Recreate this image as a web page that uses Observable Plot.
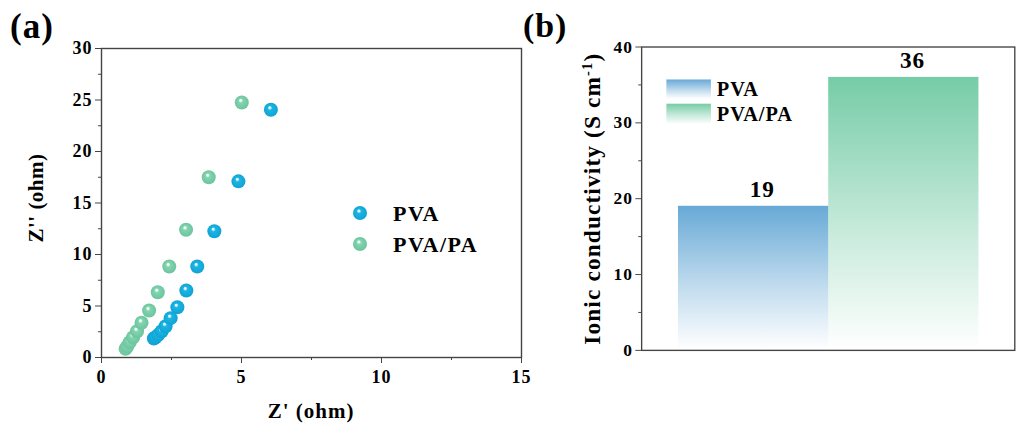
<!DOCTYPE html>
<html><head><meta charset="utf-8">
<script src="https://cdn.jsdelivr.net/npm/d3@7"></script>
<script src="https://cdn.jsdelivr.net/npm/@observablehq/plot@0.6"></script>
<style>
html,body{margin:0;padding:0;background:#fff;}
#wrap{position:relative;width:1024px;height:423px;overflow:hidden;}
#a,#b{position:absolute;top:0;}
#a{left:0;} #b{left:520px;}
#wrap svg, #wrap svg g, #wrap svg text{font-family:"Liberation Serif","Times New Roman",serif !important;font-variant:normal !important;font-variant-numeric:normal !important;}
</style></head><body>
<div id="wrap"><div id="a"></div><div id="b"></div></div>
<script>
// ---------- data ----------
const pvaZre = [1.87,1.93,2.03,2.15,2.29,2.47,2.71,3.03,3.42,4.03,4.89,6.05];
const pvaZim = [1.84,1.97,2.20,2.55,3.04,3.82,4.88,6.50,8.83,12.26,17.10,24.05];
const paZre  = [0.86,0.92,1.01,1.13,1.27,1.43,1.70,2.01,2.42,3.02,3.83,5.01];
const paZim  = [0.84,1.07,1.49,1.97,2.55,3.37,4.56,6.34,8.83,12.40,17.50,24.76];
const seriesNames = ["PVA","PVA/PA"];
const conductivity = [19,36];
const xMajorA = [0,5,10,15];
const xMinorA = [2.5,7.5,12.5];
const yMajorA = [0,5,10,15,20,25,30];
const yMinorA = [2.5,7.5,12.5,17.5,22.5,27.5];
const yMajorB = [0,10,20,30,40];
const yMinorB = [5,15,25,35];

const FONT = '"Liberation Serif","Times New Roman",serif';
const pva = pvaZre.map((x,i)=>({x, y:pvaZim[i]}));
const pvaPa = paZre.map((x,i)=>({x, y:paZim[i]}));
const bars = seriesNames.map((name,i)=>({name, value:conductivity[i]}));

function addText(sel, x, y, txt, size, opts={}) {
  const t = sel.append("text").attr("x",x).attr("y",y).text(txt)
    .attr("font-family",FONT).attr("font-weight","bold").attr("font-size",size).attr("fill","#000")
    .attr("text-anchor", opts.anchor || "start");
  if (opts.rotate) t.attr("transform",`rotate(-90,${x},${y})`);
  if (opts.ls) t.attr("letter-spacing",opts.ls);
  return t;
}
const tickFont = {fontFamily: FONT, fontSize: 18, fontWeight: "bold", fontVariant: "normal", fill: "#000"};

// ---------- panel (a) ----------
const ballDefs = () => {
  const d = d3.create("svg:defs");
  [["ballBlue","#d6f3fc","#1cb5e3","#0fa3d3"],["ballGreen","#eefaf4","#82d4b0","#6cc49d"]].forEach(([id,hi,mid,edge])=>{
    const g = d.append("radialGradient").attr("id",id).attr("cx","0.5").attr("cy","0.5").attr("r","0.5").attr("fx","0.4").attr("fy","0.32");
    g.append("stop").attr("offset","0").attr("stop-color","#ffffff");
    g.append("stop").attr("offset","0.14").attr("stop-color",hi);
    g.append("stop").attr("offset","0.32").attr("stop-color",mid);
    g.append("stop").attr("offset","1").attr("stop-color",edge);
  });
  return d.node();
};
const decoA = () => {
  const g = d3.create("svg:g");
  addText(g, 10, 38, "(a)", 35);
  addText(g, 311, 418, "Z' (ohm)", 21, {anchor:"middle", ls:"1px"});
  addText(g, 43, 198, "Z'' (ohm)", 21, {anchor:"middle", rotate:true, ls:"0.5px"});
  // legend
  g.append("circle").attr("cx",360).attr("cy",213).attr("r",7).attr("fill","url(#ballBlue)");
  g.append("circle").attr("cx",360).attr("cy",244).attr("r",7).attr("fill","url(#ballGreen)");
  addText(g, 393, 221, seriesNames[0], 22, {ls:"1.5px"});
  addText(g, 393, 252, seriesNames[1], 22, {ls:"1.5px"});
  return g.node();
};

const left = Plot.plot({
  width: 530, height: 423,
  marginLeft: 101, marginRight: 9, marginTop: 48, marginBottom: 66,
  x: {domain: [0,15]},
  y: {domain: [0,30]},
  style: {fontFamily: FONT, fontSize: "18px", fontWeight: "bold", color: "#000", background: "transparent", overflow: "visible", letterSpacing: "1px"},
  marks: [
    ballDefs,
    Plot.frame({stroke: "#444", strokeWidth: 1.4}),
    Plot.axisX(xMinorA, {tickSize: 3, text: null, label: null, stroke: "#444"}),
    Plot.axisX(xMajorA, {tickSize: 6, tickPadding: 7, label: null, stroke: "#444", ...tickFont}),
    Plot.axisY(yMinorA, {tickSize: 3, text: null, label: null, stroke: "#444"}),
    Plot.axisY(yMajorA, {tickSize: 6, tickPadding: 3, label: null, stroke: "#444", ...tickFont}),
    Plot.dot(pva, {x: "x", y: "y", r: 7, fill: "url(#ballBlue)", stroke: null}),
    Plot.dot(pvaPa, {x: "x", y: "y", r: 7, fill: "url(#ballGreen)", stroke: null}),
    decoA
  ]
});
document.getElementById("a").append(left);

// ---------- panel (b) ----------
const barDefs = () => {
  const d = d3.create("svg:defs");
  [["barBlue","#68a9d6"],["barGreen","#76cca7"]].forEach(([id,c])=>{
    const g = d.append("linearGradient").attr("id",id).attr("x1","0").attr("y1","0").attr("x2","0").attr("y2","1");
    g.append("stop").attr("offset","0").attr("stop-color",c).attr("stop-opacity",1);
    g.append("stop").attr("offset","0.55").attr("stop-color",c).attr("stop-opacity",0.42);
    g.append("stop").attr("offset","1").attr("stop-color",c).attr("stop-opacity",0);
  });
  return d.node();
};
const decoB = () => {
  const g = d3.create("svg:g");
  addText(g, 3, 38, "(b)", 35);
  const t = addText(g, 83, 205, "Ionic conductivity (S cm", 24, {anchor:"middle", rotate:true, ls:"1.2px"});
  t.append("tspan").attr("baseline-shift","super").attr("font-size",15).text("-1");
  t.append("tspan").text(")");
  // legend
  g.append("rect").attr("x",151).attr("y",82).attr("width",46).attr("height",20).attr("fill","url(#barBlue)");
  g.append("rect").attr("x",151).attr("y",107).attr("width",46).attr("height",21).attr("fill","url(#barGreen)");
  addText(g, 203, 99, seriesNames[0], 21, {ls:"1px"});
  addText(g, 203, 125, seriesNames[1], 21, {ls:"1px"});
  return g.node();
};

const right = Plot.plot({
  width: 520, height: 423,
  marginLeft: 125, marginRight: 10, marginTop: 48, marginBottom: 62,
  x: {type: "band", domain: seriesNames, paddingInner: 0, paddingOuter: 0.24, axis: null},
  y: {domain: [0,40]},
  style: {fontFamily: FONT, fontSize: "18px", fontWeight: "bold", color: "#000", background: "transparent", overflow: "visible", letterSpacing: "1px"},
  marks: [
    barDefs,
    Plot.barY(bars, {filter: d => d.name === seriesNames[0], x: "name", y: "value", fill: "url(#barBlue)"}),
    Plot.barY(bars, {filter: d => d.name === seriesNames[1], x: "name", y: "value", fill: "url(#barGreen)"}),
    Plot.frame({stroke: "#444", strokeWidth: 1.4}),
    Plot.axisY(yMinorB, {tickSize: 3, text: null, label: null, stroke: "#444"}),
    Plot.axisY(yMajorB, {tickSize: 6, tickPadding: 3, label: null, stroke: "#444", ...tickFont}),
    Plot.text(bars, {x: "name", y: "value", text: d => String(d.value), dx: 9, dy: -10, lineAnchor: "bottom", fontSize: 24, fontWeight: "bold", fontFamily: FONT, fill: "#000"}),
    decoB
  ]
});
document.getElementById("b").append(right);
</script>
</body></html>
